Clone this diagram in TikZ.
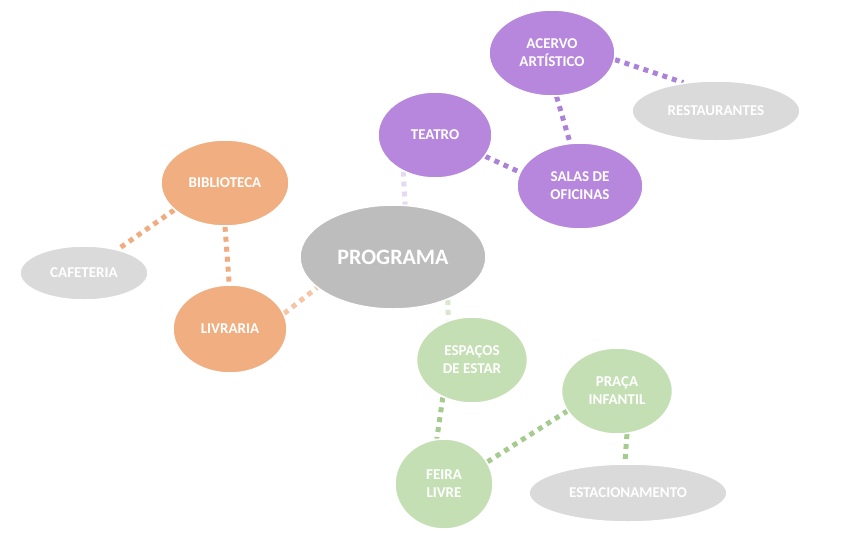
\documentclass[tikz,border=0pt]{standalone}
\usepackage{fontspec}
\setmainfont{Carlito}
\usetikzlibrary{shapes.geometric,backgrounds}
\definecolor{laranja}{HTML}{F1AE80}
\definecolor{roxo}{HTML}{B687DC}
\definecolor{verde}{HTML}{C5DFB4}
\definecolor{cinza}{HTML}{DADADA}
\definecolor{cinzaescuro}{HTML}{BDBDBD}
\definecolor{linklaranja}{HTML}{F0AC80}
\definecolor{linkroxo}{HTML}{AC82D8}
\definecolor{linkverde}{HTML}{A6CB8E}
\begin{document}
\begin{tikzpicture}[x=1pt, y=-1pt,
  bubble/.style={ellipse, draw=white, line width=1.5pt, text=white, align=center, inner sep=0pt,
    font=\bfseries\fontsize{15}{18}\selectfont},
  link/.style={line width=5pt, dash pattern=on 5pt off 5pt}]
  \useasboundingbox (0,0) rectangle (851,533);

  % 中心
  \node[bubble, fill=cinzaescuro, minimum width=186pt, minimum height=104pt,
    font=\bfseries\fontsize{22}{24}\selectfont] (programa) at (393,257) {PROGRAMA};

  % 紫のグループ
  \node[bubble, fill=roxo, minimum width=114pt, minimum height=86pt] (teatro) at (435,135) {TEATRO};
  \node[bubble, fill=roxo, minimum width=126pt, minimum height=86pt] (acervo) at (552,53) {ACERVO\\ARTÍSTICO};
  \node[bubble, fill=roxo, minimum width=126pt, minimum height=86pt] (salas) at (580,186) {SALAS DE\\OFICINAS};
  \node[bubble, fill=cinza, minimum width=168pt, minimum height=60pt] (restaurantes) at (716,111) {RESTAURANTES};

  % オレンジのグループ
  \node[bubble, fill=laranja, minimum width=128pt, minimum height=86pt] (biblioteca) at (225,183) {BIBLIOTECA};
  \node[bubble, fill=cinza, minimum width=128pt, minimum height=54pt] (cafeteria) at (84,273) {CAFETERIA};
  \node[bubble, fill=laranja, minimum width=114pt, minimum height=88pt] (livraria) at (230,329) {LIVRARIA};

  % 緑のグループ
  \node[bubble, fill=verde, minimum width=111pt, minimum height=86pt] (espacos) at (472,360) {ESPAÇOS\\DE ESTAR};
  \node[bubble, fill=verde, minimum width=111pt, minimum height=86pt] (praca) at (617,391) {PRAÇA\\INFANTIL};
  \node[bubble, fill=verde, minimum width=98pt, minimum height=90pt] (feira) at (444,484) {FEIRA\\LIVRE};
  \node[bubble, fill=cinza, minimum width=198pt, minimum height=58pt] (estacionamento) at (628,493) {ESTACIONAMENTO};

  % エッジ
  \begin{scope}[on background layer]
    \draw[link, linkroxo!30] (teatro.229) -- (programa.77);
    \draw[link, linkroxo] (acervo.354) -- (restaurantes.139);
    \draw[link, linkroxo] (acervo.276) -- (salas.103);
    \draw[link, linkroxo] (teatro.337) -- (salas.167);

    \draw[link, linklaranja] (biblioteca.208) -- (cafeteria.35);
    \draw[link, linklaranja] (biblioteca.270) -- (livraria.91);
    \draw[link, linklaranja!70] (livraria.16) -- (programa.202);

    \draw[link, linkverde!45] (programa.322) -- (espacos.121);
    \draw[link, linkverde] (espacos.232) -- (feira.99);
    \draw[link, linkverde] (feira.27) -- (praca.202);
    \draw[link, linkverde] (praca.283) -- (estacionamento.96);
  \end{scope}
\end{tikzpicture}
\end{document}
